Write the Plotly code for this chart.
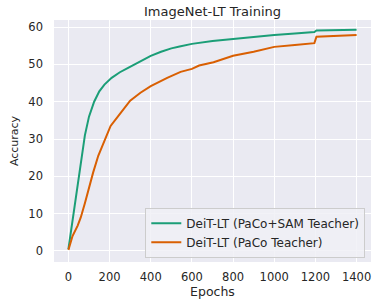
import plotly.graph_objects as go

# Data
green_epochs = [0, 20, 40, 60, 80, 100, 125, 150, 175, 210, 250, 290, 330, 370, 400, 450,
                500, 540, 600, 700, 800, 900, 1000, 1100, 1195, 1205, 1300, 1400]
green_acc = [0.5, 8.0, 15.5, 24.0, 31.0, 36.0, 40.0, 42.8, 44.6, 46.4, 47.9, 49.1, 50.2, 51.4,
             52.3, 53.4, 54.3, 54.8, 55.5, 56.3, 56.9, 57.4, 57.9, 58.3, 58.7, 59.1, 59.2, 59.3]

orange_epochs = [0, 20, 45, 60, 80, 100, 120, 145, 175, 205, 255, 300, 350, 400, 480, 545,
                 600, 635, 705, 800, 900, 1000, 1100, 1195, 1205, 1300, 1400]
orange_acc = [0.3, 4.0, 6.8, 9.0, 12.8, 17.0, 21.0, 25.5, 29.5, 33.5, 37.1, 40.3, 42.4, 44.2,
              46.4, 48.0, 48.8, 49.7, 50.6, 52.3, 53.4, 54.7, 55.2, 55.7, 57.4, 57.7, 57.9]

series_names = ["DeiT-LT (PaCo+SAM Teacher)", "DeiT-LT (PaCo Teacher)"]
x_ticks = [0, 200, 400, 600, 800, 1000, 1200, 1400]
y_ticks = [0, 10, 20, 30, 40, 50, 60]

FONT = "DejaVu Sans"
TXT = "#262626"

fig = go.Figure()
fig.add_trace(go.Scatter(x=green_epochs, y=green_acc, mode="lines", name=series_names[0],
                         line=dict(color="#1b9e77", width=2)))
fig.add_trace(go.Scatter(x=orange_epochs, y=orange_acc, mode="lines", name=series_names[1],
                         line=dict(color="#d95f02", width=2)))

fig.update_layout(
    width=381, height=300,
    margin=dict(l=54, r=10, t=20, b=38, autoexpand=False),
    paper_bgcolor="white", plot_bgcolor="#EAEAF2",
    font=dict(family=FONT, color=TXT, size=11),
    title=dict(text="ImageNet-LT Training", x=0.5, xref="paper", xanchor="center",
               y=0.963, yref="container", yanchor="middle",
               font=dict(family=FONT, size=13, color=TXT)),
    showlegend=True,
    legend=dict(x=0.982, y=0.018, xanchor="right", yanchor="bottom",
                bgcolor="rgba(240,240,246,0.85)", bordercolor="#cccccc", borderwidth=1,
                font=dict(family=FONT, size=12, color=TXT),
                itemwidth=30, tracegroupgap=0),
)
fig.update_xaxes(range=[-70, 1470], tickvals=x_ticks, showgrid=True, gridcolor="white",
                 gridwidth=1, zeroline=False, showline=False, ticks="", automargin=False,
                 ticklabelstandoff=6, tickfont=dict(size=11.5),
                 title=dict(text="Epochs", standoff=1, font=dict(size=12.5)))
fig.update_yaxes(range=[-2.95, 61.9], tickvals=y_ticks, showgrid=True, gridcolor="white",
                 gridwidth=1, zeroline=False, showline=False, ticks="", automargin=False,
                 ticklabelstandoff=10, tickfont=dict(size=11.5),
                 title=dict(text="Accuracy", standoff=7, font=dict(size=11)))

# remove the browser's default 8px body margin so the figure fills the window
fig.write_html("out.html", config={"displayModeBar": False},
               post_script="document.body.style.margin='0';document.body.style.overflow='hidden';")
